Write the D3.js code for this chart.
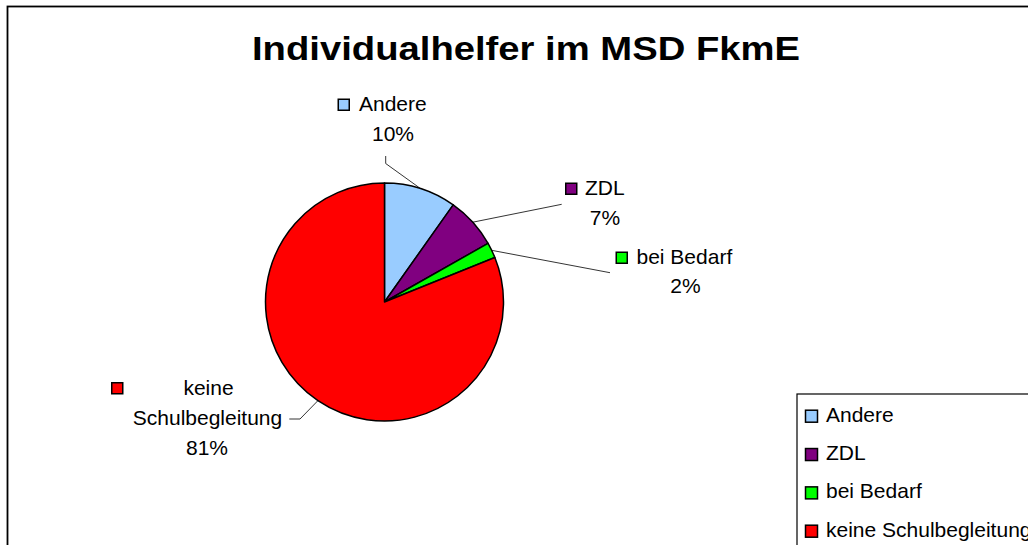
<!DOCTYPE html>
<html><head><meta charset="utf-8">
<script src="https://cdn.jsdelivr.net/npm/d3@7/dist/d3.min.js"></script>
<style>
html,body{margin:0;padding:0;background:#fff;overflow:hidden}
text{font-family:"Liberation Sans",Arial,sans-serif;fill:#000}
</style></head><body>
<svg id="c" width="1028" height="545"></svg>
<script>
const title = "Individualhelfer im MSD FkmE";
const categories = ["Andere", "ZDL", "bei Bedarf", "keine Schulbegleitung"];
const values = [9.8, 7.0, 2.1, 81.1];
const percentLabels = ["10%", "7%", "2%", "81%"];
const colors = ["#99CCFF", "#800080", "#00FF00", "#FF0000"];
// label text lines (data label layout)
const labelLines = [["Andere","10%"],["ZDL","7%"],["bei Bedarf","2%"],["keine","Schulbegleitung","81%"]];

const svg = d3.select("#c");

// outer frame
svg.append("rect").attr("x",7.5).attr("y",6.5).attr("width",1200).attr("height",700)
  .attr("fill","none").attr("stroke","#000").attr("stroke-width",1.8);

// title
svg.append("text").attr("x",526).attr("y",59.5).attr("text-anchor","middle")
  .attr("font-size",33).attr("font-weight","bold")
  .attr("textLength",548).attr("lengthAdjust","spacingAndGlyphs").text(title);

// pie
const cx = 384.5, cy = 302, R = 119;
const pie = d3.pie().sort(null).value(d=>d)(values);
const arc = d3.arc().innerRadius(0).outerRadius(R);
const g = svg.append("g").attr("transform",`translate(${cx},${cy})`);
g.selectAll("path").data(pie).enter().append("path")
  .attr("d",arc).attr("fill",(d,i)=>colors[i])
  .attr("stroke","#000").attr("stroke-width",1.5).attr("stroke-linejoin","round");

// data labels
const labelLayout = [
  {key:[337.5,98.5], lines:[[359,111,"start"],[393,141,"middle"]], leader:[[385.7,156],[385.7,163.5]]},
  {key:[565,182.5], lines:[[585,194.5,"start"],[605,225,"middle"]], leader:[[561.7,204.3]]},
  {key:[615.5,251.5], lines:[[636.5,263.5,"start"],[685.5,292.5,"middle"]], leader:[[610,272.7]]},
  {key:[111,382], lines:[[208.5,395,"middle"],[207.5,424.5,"middle"],[207,454.5,"middle"]], leader:[[289.3,419],[300,419]]}
];
pie.forEach((d,i)=>{
  const L = labelLayout[i];
  const mid = (d.startAngle+d.endAngle)/2;
  const ex = cx + R*Math.sin(mid), ey = cy - R*Math.cos(mid);
  const pts = L.leader.concat([[ex,ey]]);
  svg.append("path").attr("d",d3.line()(pts)).attr("fill","none")
    .attr("stroke","#000").attr("stroke-width",0.8);
  svg.append("rect").attr("x",L.key[0]+0.75).attr("y",L.key[1]+0.75).attr("width",11).attr("height",11)
    .attr("fill",colors[i]).attr("stroke","#000").attr("stroke-width",1.5);
  labelLines[i].forEach((t,j)=>{
    const p = L.lines[j];
    svg.append("text").attr("x",p[0]).attr("y",p[1]).attr("text-anchor",p[2])
      .attr("font-size",21).text(t);
  });
});

// legend
const lg = svg.append("g");
lg.append("rect").attr("x",797).attr("y",394).attr("width",400).attr("height",300)
  .attr("fill","#fff").attr("stroke","#000").attr("stroke-width",1.2);
const ly = d3.scalePoint().domain(categories).range([421.7, 536.7]);
categories.forEach((c,i)=>{
  lg.append("rect").attr("x",805.5).attr("y",ly(c)-11.5).attr("width",12).attr("height",12)
    .attr("fill",colors[i]).attr("stroke","#000").attr("stroke-width",1.5);
  lg.append("text").attr("x",826).attr("y",ly(c)).attr("font-size",21).text(c);
});
</script>
</body></html>
